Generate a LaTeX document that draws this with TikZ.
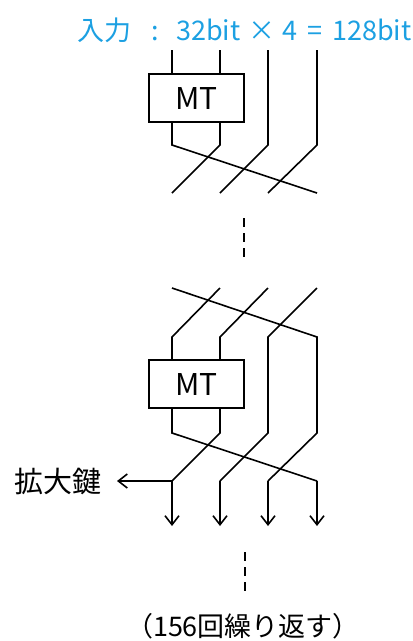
\documentclass[tikz,border=0pt]{standalone}
\usepackage{fontspec}
\setmainfont{Noto Sans CJK JP}
\usetikzlibrary{arrows.meta}
\definecolor{titlecol}{RGB}{28,160,226}
\newcommand{\tok}[2]{\makebox[#1pt][l]{#2}}
\begin{document}
\begin{tikzpicture}[x=1pt,y=-1pt,
  wire/.style={line width=1.6pt, line join=miter},
  arr/.style={wire, -{Straight Barb[length=9pt,width=14pt,line width=1.6pt]}},
  mtbox/.style={draw, line width=1.6pt, minimum width=95pt, minimum height=48pt, inner sep=0pt, font=\fontsize{30}{30}\selectfont},
  dots/.style={line width=1.6pt, dash pattern=on 9pt off 6pt},
  lbl/.style={inner sep=0pt}]
\useasboundingbox (0,0) rectangle (413,641);
% title
\node[lbl, anchor=west, text=titlecol, font=\fontsize{27}{27}\selectfont] (title) at (77,30) {\tok{74}{入力}\tok{25}{:}\tok{72}{32bit}\tok{34}{×}\tok{25}{4}\tok{25}{=}128bit};
% top MT
\node[mtbox] (mt1) at (196.5,98) {MT};
\coordinate (a1) at (172,50);
\coordinate (a2) at (220,50);
\coordinate (a3) at (268,50);
\coordinate (a4) at (317,50);
\coordinate (b1) at (172,145);
\coordinate (b2) at (220,145);
\coordinate (b3) at (268,145);
\coordinate (b4) at (317,145);
\coordinate (c1) at (172,193);
\coordinate (c2) at (220,193);
\coordinate (c3) at (268,193);
\coordinate (c4) at (317,193);
\draw[wire] (a1) -- (a1 |- mt1.north);
\draw[wire] (a2) -- (a2 |- mt1.north);
\draw[wire] (b1 |- mt1.south) -- (b1) -- (c4);
\draw[wire] (b2 |- mt1.south) -- (b2) -- (c1);
\draw[wire] (a3) -- (b3) -- (c2);
\draw[wire] (a4) -- (b4) -- (c3);
% upper dashes
\coordinate (d1) at (244,218);
\coordinate (d2) at (244,261);
\draw[dots] (d1) -- (d2);
% lower MT
\node[mtbox] (mt2) at (196.5,384) {MT};
\coordinate (e1) at (172,288);
\coordinate (e2) at (220,288);
\coordinate (e3) at (268,288);
\coordinate (e4) at (317,288);
\coordinate (f1) at (172,337);
\coordinate (f2) at (220,337);
\coordinate (f3) at (268,337);
\coordinate (f4) at (317,337);
\coordinate (g1) at (172,433);
\coordinate (g2) at (220,433);
\coordinate (g3) at (268,433);
\coordinate (g4) at (317,433);
\coordinate (h1) at (172,481);
\coordinate (h2) at (220,481);
\coordinate (h3) at (268,481);
\coordinate (h4) at (317,481);
\coordinate (o1) at (172,526);
\coordinate (o2) at (220,526);
\coordinate (o3) at (268,526);
\coordinate (o4) at (317,526);
\draw[wire] (e1) -- (f4) -- (g4) -- (h3);
\draw[arr] (h3) -- (o3);
\draw[wire] (e2) -- (f1) -- (f1 |- mt2.north);
\draw[wire] (e3) -- (f2) -- (f2 |- mt2.north);
\draw[wire] (e4) -- (f3) -- (g3) -- (h2);
\draw[arr] (h2) -- (o2);
\draw[wire] (g1 |- mt2.south) -- (g1) -- (h4);
\draw[arr] (h4) -- (o4);
\draw[wire] (g2 |- mt2.south) -- (g2) -- (h1);
\draw[arr] (h1) -- (o1);
% extended key
\node[lbl, font=\fontsize{29}{29}\selectfont] (key) at (58,481) {拡大鍵};
\coordinate (kend) at (117,481);
\draw[arr] (h1) -- (kend);
% lower dashes
\coordinate (d3) at (245,552);
\coordinate (d4) at (245,595);
\draw[dots] (d3) -- (d4);
\node[lbl, font=\fontsize{27}{27}\selectfont] (rep) at (243,626) {（156回繰り返す）};
\end{tikzpicture}
\end{document}
